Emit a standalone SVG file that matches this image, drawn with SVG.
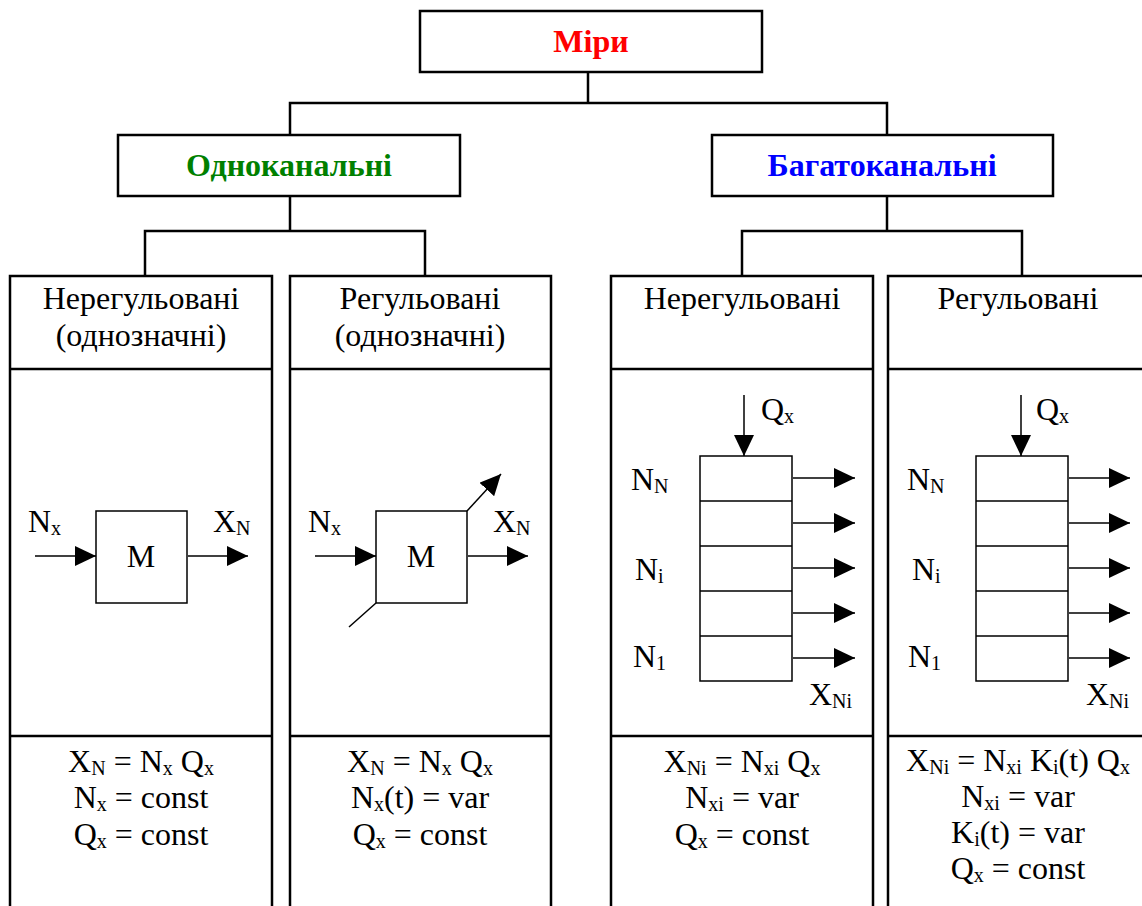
<svg xmlns="http://www.w3.org/2000/svg" width="1142" height="906" viewBox="0 0 1142 906">
<defs>
<style>
text{font-family:"Liberation Serif","Times New Roman",serif;fill:#000}
.t{font-size:32px;text-anchor:middle}
.l{font-size:32px}
.h{font-size:32px;font-weight:bold;text-anchor:middle}
.s{font-size:20px}
.box{fill:#fff;stroke:#000;stroke-width:2.5}
.col{fill:none;stroke:#000;stroke-width:2.5}
.ln{fill:none;stroke:#000;stroke-width:2.5}
.thin{fill:none;stroke:#000;stroke-width:1.5}
.ar{fill:none;stroke:#000;stroke-width:1.5;marker-end:url(#ah)}
</style>
<marker id="ah" viewBox="0 0 21 20" refX="21" refY="10" markerWidth="21" markerHeight="20" markerUnits="userSpaceOnUse" orient="auto">
<path d="M0,0L21,10L0,20Z" fill="#000"/>
</marker>
</defs>
<rect width="1142" height="906" fill="#fff"/>

<!-- tree connectors -->
<g id="connectors">
<path class="ln" d="M588,72V103M290,135V103H887V135"/>
<path class="ln" d="M290,196V231M145,276V231H425V276"/>
<path class="ln" d="M887,196V231M742,276V231H1022V276"/>
</g>

<g id="root">
<rect class="box" x="420" y="11" width="342" height="61"/>
<text class="h" x="591" y="52" style="fill:#ff0000">Міри</text>
</g>

<g id="single">
<rect class="box" x="118" y="135" width="342" height="61"/>
<text class="h" x="289" y="176" style="fill:#008000">Одноканальні</text>
</g>

<g id="multi">
<rect class="box" x="712" y="135" width="341" height="61"/>
<text class="h" x="882" y="176" style="fill:#0000ff">Багатоканальні</text>
</g>

<!-- column 1: single-channel, fixed -->
<g id="col1">
<path class="col" d="M10,920V276H272V920M10,369H272M10,736H272"/>
<text class="t" x="141" y="309">Нерегульовані</text>
<text class="t" x="141" y="346">(однозначні)</text>
<rect class="thin" x="96" y="511" width="91" height="92"/>
<text class="t" x="141" y="567">M</text>
<line class="ar" x1="35" y1="556" x2="96" y2="556"/>
<line class="ar" x1="188" y1="556" x2="248" y2="556"/>
<text class="l" x="28" y="532">N<tspan class="s" dy="3">x</tspan></text>
<text class="l" x="213" y="532">X<tspan class="s" dy="3">N</tspan></text>
<text class="t" x="141" y="772">X<tspan class="s" dy="3">N</tspan><tspan dy="-3"> = N</tspan><tspan class="s" dy="3">x</tspan><tspan dy="-3"> Q</tspan><tspan class="s" dy="3">x</tspan></text>
<text class="t" x="141" y="808">N<tspan class="s" dy="3">x</tspan><tspan dy="-3"> = const</tspan></text>
<text class="t" x="141" y="845">Q<tspan class="s" dy="3">x</tspan><tspan dy="-3"> = const</tspan></text>
</g>

<!-- column 2: single-channel, adjustable -->
<g id="col2">
<path class="col" d="M290,920V276H551V920M290,369H551M290,736H551"/>
<text class="t" x="420" y="309">Регульовані</text>
<text class="t" x="420" y="346">(однозначні)</text>
<rect class="thin" x="376" y="511" width="91" height="92"/>
<text class="t" x="421" y="567">M</text>
<line class="ar" x1="315" y1="556" x2="376" y2="556"/>
<line class="ar" x1="468" y1="556" x2="528" y2="556"/>
<line class="ar" x1="467" y1="511" x2="501" y2="474"/>
<line class="thin" x1="376" y1="603" x2="349" y2="627"/>
<text class="l" x="308" y="532">N<tspan class="s" dy="3">x</tspan></text>
<text class="l" x="493" y="532">X<tspan class="s" dy="3">N</tspan></text>
<text class="t" x="420" y="772">X<tspan class="s" dy="3">N</tspan><tspan dy="-3"> = N</tspan><tspan class="s" dy="3">x</tspan><tspan dy="-3"> Q</tspan><tspan class="s" dy="3">x</tspan></text>
<text class="t" x="420" y="808">N<tspan class="s" dy="3">x</tspan><tspan dy="-3">(t) = var</tspan></text>
<text class="t" x="420" y="845">Q<tspan class="s" dy="3">x</tspan><tspan dy="-3"> = const</tspan></text>
</g>

<!-- column 3: multi-channel, fixed -->
<g id="col3">
<path class="col" d="M611,920V276H873V920M611,369H873M611,736H873"/>
<text class="t" x="742" y="309">Нерегульовані</text>
<path class="thin" d="M700,456H792V681H700ZM700,501H792M700,546H792M700,591H792M700,636H792"/>
<line class="ar" x1="744" y1="395" x2="744" y2="456"/>
<path class="ar" d="M793,478H855"/>
<path class="ar" d="M793,523H855"/>
<path class="ar" d="M793,568H855"/>
<path class="ar" d="M793,613H855"/>
<path class="ar" d="M793,658H855"/>
<text class="l" x="761" y="420">Q<tspan class="s" dy="3">x</tspan></text>
<text class="l" x="631" y="490">N<tspan class="s" dy="3">N</tspan></text>
<text class="l" x="635" y="580">N<tspan class="s" dy="3">i</tspan></text>
<text class="l" x="633" y="667">N<tspan class="s" dy="3">1</tspan></text>
<text class="l" x="809" y="705">X<tspan class="s" dy="3">Ni</tspan></text>
<text class="t" x="742" y="772">X<tspan class="s" dy="3">Ni</tspan><tspan dy="-3"> = N</tspan><tspan class="s" dy="3">xi</tspan><tspan dy="-3"> Q</tspan><tspan class="s" dy="3">x</tspan></text>
<text class="t" x="742" y="808">N<tspan class="s" dy="3">xi</tspan><tspan dy="-3"> = var</tspan></text>
<text class="t" x="742" y="845">Q<tspan class="s" dy="3">x</tspan><tspan dy="-3"> = const</tspan></text>
</g>

<!-- column 4: multi-channel, adjustable -->
<g id="col4">
<path class="col" d="M888,920V276H1160V920M888,369H1160M888,736H1160"/>
<text class="t" x="1018" y="309">Регульовані</text>
<path class="thin" d="M976,456H1068V681H976ZM976,501H1068M976,546H1068M976,591H1068M976,636H1068"/>
<line class="ar" x1="1021" y1="395" x2="1021" y2="456"/>
<path class="ar" d="M1069,478H1130"/>
<path class="ar" d="M1069,523H1130"/>
<path class="ar" d="M1069,568H1130"/>
<path class="ar" d="M1069,613H1130"/>
<path class="ar" d="M1069,658H1130"/>
<text class="l" x="1036" y="420">Q<tspan class="s" dy="3">x</tspan></text>
<text class="l" x="907" y="490">N<tspan class="s" dy="3">N</tspan></text>
<text class="l" x="912" y="580">N<tspan class="s" dy="3">i</tspan></text>
<text class="l" x="908" y="667">N<tspan class="s" dy="3">1</tspan></text>
<text class="l" x="1086" y="705">X<tspan class="s" dy="3">Ni</tspan></text>
<text class="t" x="1018" y="771">X<tspan class="s" dy="3">Ni</tspan><tspan dy="-3"> = N</tspan><tspan class="s" dy="3">xi</tspan><tspan dy="-3"> K</tspan><tspan class="s" dy="3">i</tspan><tspan dy="-3">(t) Q</tspan><tspan class="s" dy="3">x</tspan></text>
<text class="t" x="1018" y="807">N<tspan class="s" dy="3">xi</tspan><tspan dy="-3"> = var</tspan></text>
<text class="t" x="1018" y="843">K<tspan class="s" dy="3">i</tspan><tspan dy="-3">(t) = var</tspan></text>
<text class="t" x="1018" y="879">Q<tspan class="s" dy="3">x</tspan><tspan dy="-3"> = const</tspan></text>
</g>
</svg>
